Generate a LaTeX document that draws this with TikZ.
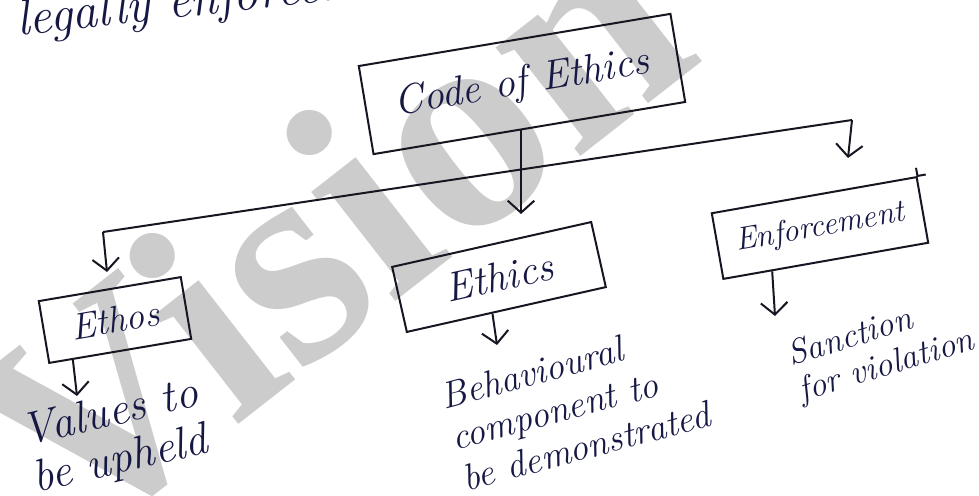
\documentclass[tikz,border=0pt]{standalone}
\usepackage{fontspec}
\newfontfamily\markfont{Liberation Serif}
\usetikzlibrary{arrows.meta,calc}
\definecolor{ink}{RGB}{22,22,34}
\definecolor{penblue}{RGB}{22,24,68}
\definecolor{markgray}{RGB}{204,204,204}
\begin{document}
\begin{tikzpicture}[x=0.75pt,y=-0.75pt,
  hand/.style={font=\itshape\fontsize{#1}{#1}\selectfont, text=penblue},
  box/.style={draw=ink, line width=1.5pt, inner sep=0pt},
  arr/.style={draw=ink, line width=1.5pt, -{Straight Barb[length=9pt,width=20pt]}},
  note/.style={align=left, inner sep=0pt}]
\useasboundingbox (0,0) rectangle (979,496);
\clip (0,0) rectangle (979,496);

% watermark behind everything
\node[anchor=base west, rotate=38, inner sep=0pt,
      font=\markfont\bfseries\fontsize{225}{225}\selectfont, text=markgray]
      (wm) at (71,555) {Vision};

% running text from the previous line
\node[anchor=base west, rotate=6.5, inner sep=0pt, hand=38] (head) at (18,36) {legally enforceable};

% boxes
\node[box, hand=31, rotate=9.5, minimum width=237pt, minimum height=67pt] (code) at (522,84) {Code of Ethics};
\node[box, hand=28, rotate=9.6, minimum width=108pt, minimum height=47pt] (ethos) at (115,320) {Ethos};
\node[box, hand=31, rotate=12.7, minimum width=153pt, minimum height=50pt] (ethics) at (499,277) {Ethics};
\node[box, hand=24, rotate=10, minimum width=156pt, minimum height=50pt] (enf) at (820,228) {Enforcement};
% pen overshoot at the top right corner of the enforcement box
\draw[ink, line width=1.5pt] ($(enf.north east)!-0.12!(enf.south east)$) -- (enf.north east)
  -- ($(enf.north east)!-0.04!(enf.north west)$);

% notes under the boxes
\node[note, hand=34, rotate=13] (values) at (116,438) {Values to\\[2pt] be upheld};
\node[note, hand=28, rotate=15] (behav) at (575,405) {Behavioural\\[4pt] component to\\[4pt] be demonstrated};
\node[note, hand=26, rotate=17] (sanct) at (881,349) {Sanction\\[2pt] for violation};

% branch line and its drops
\coordinate (bl) at (103,232);
\coordinate (br) at (852,120);
\coordinate (tipL) at (107,272);
\coordinate (tipR) at (848,158);
\coordinate (tipM) at (521,214);
\draw[ink, line width=1.5pt] (bl) -- (br);
\draw[arr] (bl) -- (tipL);
\draw[arr] (br) -- (tipR);
\draw[arr] (code.south -| tipM) -- (tipM);

% arrows from boxes to their notes
\coordinate (tipE) at (77,396);
\coordinate (tipB) at (497,345);
\coordinate (tipS) at (775,316);
\draw[arr] ($(ethos.south west)!0.17!(ethos.south east)$) -- (tipE);
\draw[arr] ($(ethics.south west)!0.43!(ethics.south east)$) -- (tipB);
\draw[arr] ($(enf.south west)!0.24!(enf.south east)$) -- (tipS);
\end{tikzpicture}
\end{document}
